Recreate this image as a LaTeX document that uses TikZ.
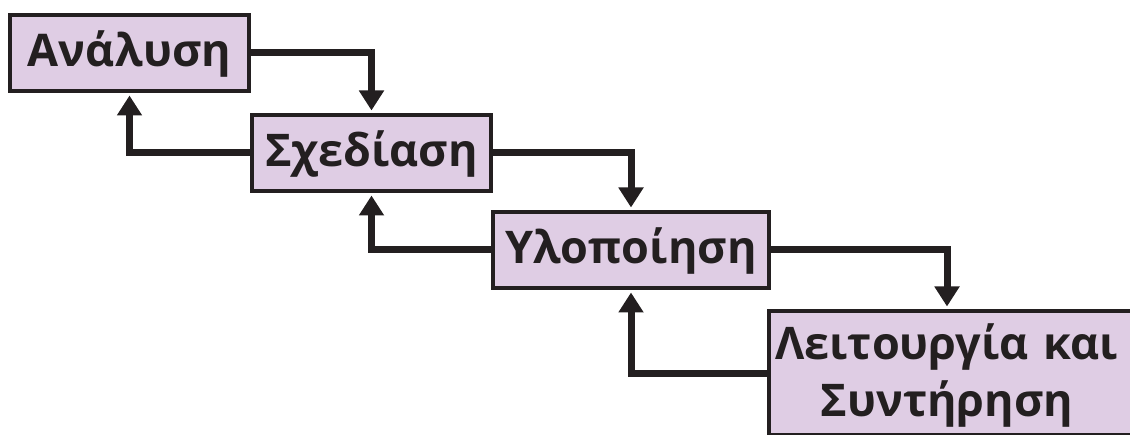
\documentclass[tikz,border=0pt]{standalone}
\usepackage{fontspec}
\setmainfont{Open Sans}
\usetikzlibrary{arrows.meta,backgrounds}
\definecolor{boxfill}{RGB}{223,205,228}
\definecolor{ink}{RGB}{35,31,32}
\begin{document}
\begin{tikzpicture}[x=1pt,y=-1pt,
  stagefont/.style={text=ink, font=\fontsize{45}{57}\selectfont\bfseries},
  stage/.style={stagefont, draw=ink, fill=boxfill, line width=4.5pt,
    inner sep=0pt, outer sep=0pt, minimum height=76pt,
    text height=52pt, text depth=24pt},
  frame/.style={draw=ink, fill=boxfill, line width=4.5pt},
  flow/.style={draw=ink, line width=7pt,
    -{Triangle[width=24pt,length=20pt]}, shorten >=4.5pt}]
\clip (0,0) rectangle (1130,435);
% the four phases
\node[stage, minimum width=239pt] (an) at (129.5,53) {Ανάλυση};
\node[stage, minimum width=239pt] (sx) at (371.5,153) {Σχεδίαση};
\node[stage, minimum width=276pt] (yl) at (631,250) {Υλοποίηση};
\node[stagefont, inner sep=0pt, outer sep=0pt, minimum width=356pt,
  text width=356pt, align=center, text height=49pt, text depth=75.5pt]
  (op) at (947,373.25) {Λειτουργία και\\Συντήρηση};
% last box runs past the right edge
\begin{scope}[on background layer]
  \draw[frame] (op.north west) rectangle ([xshift=40pt]op.south east);
\end{scope}
% forward steps
\draw[flow] (an.east) -| (sx.north);
\draw[flow] (sx.east) -| (yl.north);
\draw[flow] (yl.east) -| (op.north);
% feedback steps
\draw[flow] (sx.west) -| (an.south);
\draw[flow] (yl.west) -| (sx.south);
\draw[flow] (op.west) -| (yl.south);
\end{tikzpicture}
\end{document}
